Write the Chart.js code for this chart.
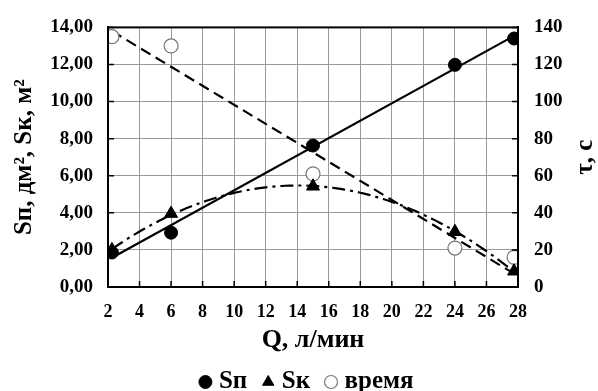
<!DOCTYPE html>
<html>
<head>
<meta charset="utf-8">
<script src="https://cdn.jsdelivr.net/npm/chart.js@4.4.0/dist/chart.umd.min.js"></script>
<style>
  html, body { margin: 0; padding: 0; background: #fff; }
  #wrap { width: 598px; height: 391px; }
</style>
</head>
<body>
<div id="wrap"><canvas id="chart"></canvas></div>
<script>
const flowQ = [2.25, 6, 15, 24, 27.75];          // Q, л/мин
const areaSp = [1.86, 2.93, 7.63, 11.98, 13.4];  // Sп, дм²
const areaSk = [2.0, 3.96, 5.43, 2.98, 0.85];    // Sк, м²
const timeTau = [135, 130, 61, 21, 16];          // τ, с

const xTicks = [2, 4, 6, 8, 10, 12, 14, 16, 18, 20, 22, 24, 26, 28];
const leftTicks = [0, 2, 4, 6, 8, 10, 12, 14];
const rightTicks = [0, 20, 40, 60, 80, 100, 120, 140];

const FONT = "'Liberation Serif', 'Times New Roman', serif";

// Least squares trend lines (like Excel trendlines)
function linFit(xs, ys) {
    const n = xs.length;
    const mx = xs.reduce((s, v) => s + v, 0) / n;
    const my = ys.reduce((s, v) => s + v, 0) / n;
    let sxy = 0, sxx = 0;
    xs.forEach((x, i) => { sxy += (x - mx) * (ys[i] - my); sxx += (x - mx) * (x - mx); });
    const b = sxy / sxx;
    return x => my + b * (x - mx);
}

function polyFit2(xs, ys) {
    // normal equations for y = c0 + c1 x + c2 x^2
    const s = [0, 0, 0, 0, 0];
    const t = [0, 0, 0];
    xs.forEach((x, i) => {
        for (let k = 0; k < 5; k++) s[k] += Math.pow(x, k);
        for (let k = 0; k < 3; k++) t[k] += ys[i] * Math.pow(x, k);
    });
    const m = [
        [s[0], s[1], s[2], t[0]],
        [s[1], s[2], s[3], t[1]],
        [s[2], s[3], s[4], t[2]]
    ];
    for (let c = 0; c < 3; c++) {
        for (let r = c + 1; r < 3; r++) {
            const f = m[r][c] / m[c][c];
            for (let k = c; k < 4; k++) m[r][k] -= f * m[c][k];
        }
    }
    const c = [0, 0, 0];
    for (let r = 2; r >= 0; r--) {
        let v = m[r][3];
        for (let k = r + 1; k < 3; k++) v -= m[r][k] * c[k];
        c[r] = v / m[r][r];
    }
    return x => c[0] + c[1] * x + c[2] * x * x;
}

const xMin = Math.min(...flowQ), xMax = Math.max(...flowQ);
const spLine = linFit(flowQ, areaSp);
const tauLine = linFit(flowQ, timeTau);
const skCurve = polyFit2(flowQ, areaSk);

const curveX = [];
for (let x = xMin; x <= xMax + 1e-9; x += 0.25) curveX.push(x);

const toPts = (xs, ys) => xs.map((x, i) => ({ x: x, y: ys[i] }));

// Frame, inner tick marks and the right-hand title (reads bottom to top)
const framePlugin = {
    id: 'frame',
    afterLayout(chart) {
        // legend row sits a little right of centre in the original
        chart.legend.left += 10;
        chart.legend.right += 10;
    },
    afterDraw(chart) {
        const { ctx, chartArea: a, scales } = chart;
        ctx.save();
        ctx.strokeStyle = '#000';
        ctx.lineWidth = 2;
        ctx.strokeRect(a.left, a.top, a.right - a.left, a.bottom - a.top);

        ctx.lineWidth = 1.5;
        ctx.beginPath();
        xTicks.forEach(v => {
            const px = scales.x.getPixelForValue(v);
            ctx.moveTo(px, a.bottom);
            ctx.lineTo(px, a.bottom - 6);
        });
        leftTicks.forEach(v => {
            const py = scales.y.getPixelForValue(v);
            ctx.moveTo(a.left, py);
            ctx.lineTo(a.left + 6, py);
        });
        rightTicks.forEach(v => {
            const py = scales.y2.getPixelForValue(v);
            ctx.moveTo(a.right, py);
            ctx.lineTo(a.right - 6, py);
        });
        ctx.stroke();

        ctx.fillStyle = '#000';
        ctx.font = 'bold 25px ' + FONT;
        ctx.textAlign = 'center';
        ctx.textBaseline = 'middle';
        ctx.translate(586, (a.top + a.bottom) / 2);
        ctx.rotate(-Math.PI / 2);
        ctx.fillText('τ, с', 0, 0);
        ctx.restore();
    }
};

new Chart(document.getElementById('chart'), {
    type: 'scatter',
    data: {
        datasets: [
            {
                label: 'Sп',
                data: toPts(flowQ, areaSp),
                yAxisID: 'y',
                pointStyle: 'circle',
                pointRadius: 6.5,
                backgroundColor: '#000',
                borderColor: '#000',
                borderWidth: 1,
                order: 1
            },
            {
                label: 'Sк',
                data: toPts(flowQ, areaSk),
                yAxisID: 'y',
                pointStyle: 'triangle',
                pointRadius: 7.5,
                backgroundColor: '#000',
                borderColor: '#000',
                borderWidth: 1,
                order: 1
            },
            {
                label: 'время',
                data: toPts(flowQ, timeTau),
                yAxisID: 'y2',
                pointStyle: 'circle',
                pointRadius: 7,
                backgroundColor: '#fff',
                borderColor: '#777',
                borderWidth: 1.2,
                order: 1
            },
            {
                label: 'trend Sп',
                data: [xMin, xMax].map(x => ({ x: x, y: spLine(x) })),
                yAxisID: 'y',
                showLine: true,
                pointRadius: 0,
                borderColor: '#000',
                borderWidth: 2.2,
                order: 2
            },
            {
                label: 'trend Sк',
                data: curveX.map(x => ({ x: x, y: skCurve(x) })),
                yAxisID: 'y',
                showLine: true,
                pointRadius: 0,
                borderColor: '#000',
                borderWidth: 2.2,
                borderDash: [13, 5, 3, 5],
                order: 2
            },
            {
                label: 'trend время',
                data: [xMin, xMax].map(x => ({ x: x, y: tauLine(x) })),
                yAxisID: 'y2',
                showLine: true,
                pointRadius: 0,
                borderColor: '#000',
                borderWidth: 2.2,
                borderDash: [11, 6],
                order: 2
            }
        ]
    },
    options: {
        responsive: true,
        maintainAspectRatio: false,
        animation: false,
        // negative bottom padding lets the legend sit low like in the original
        layout: { padding: { top: 20, left: 0, right: 0, bottom: -13.5 } },
        plugins: {
            tooltip: { enabled: false },
            legend: {
                display: true,
                position: 'bottom',
                labels: {
                    color: '#000',
                    font: { family: FONT, size: 25, weight: 'bold' },
                    usePointStyle: true,
                    boxWidth: 2,
                    boxHeight: 9.2,
                    padding: 20,
                    filter: item => item.datasetIndex < 3
                }
            }
        },
        scales: {
            x: {
                type: 'linear',
                min: 2,
                max: 28,
                afterBuildTicks: s => { s.ticks = xTicks.map(v => ({ value: v })); },
                afterFit: s => { s.height = 62.5; },
                ticks: { color: '#000', font: { family: FONT, size: 18, weight: 'bold' }, padding: 15 },
                grid: { color: '#999', lineWidth: 1, drawTicks: false },
                border: { color: '#000', width: 2 },
                title: {
                    display: true, text: 'Q, л/мин', color: '#000',
                    font: { family: FONT, size: 26, weight: 'bold' },
                    padding: { top: 0, bottom: -6 }
                }
            },
            y: {
                position: 'left',
                min: 0,
                max: 14,
                afterBuildTicks: s => { s.ticks = leftTicks.map(v => ({ value: v })); },
                afterFit: s => { s.width = 108; },
                ticks: {
                    color: '#000',
                    font: { family: FONT, size: 19, weight: 'bold' },
                    padding: 15,
                    callback: v => v.toFixed(2).replace('.', ',')
                },
                grid: { color: '#999', lineWidth: 1, drawTicks: false },
                border: { color: '#000', width: 2 },
                title: {
                    display: true, text: 'Sп, дм², Sк, м²', color: '#000',
                    font: { family: FONT, size: 25, weight: 'bold' },
                    padding: { top: 10, bottom: 0 }
                }
            },
            y2: {
                position: 'right',
                min: 0,
                max: 140,
                afterBuildTicks: s => { s.ticks = rightTicks.map(v => ({ value: v })); },
                afterFit: s => { s.width = 80; },
                ticks: { color: '#000', font: { family: FONT, size: 19, weight: 'bold' }, padding: 16 },
                grid: { drawOnChartArea: false, drawTicks: false },
                border: { color: '#000', width: 2 }
            }
        }
    },
    plugins: [framePlugin]
});
</script>
</body>
</html>
